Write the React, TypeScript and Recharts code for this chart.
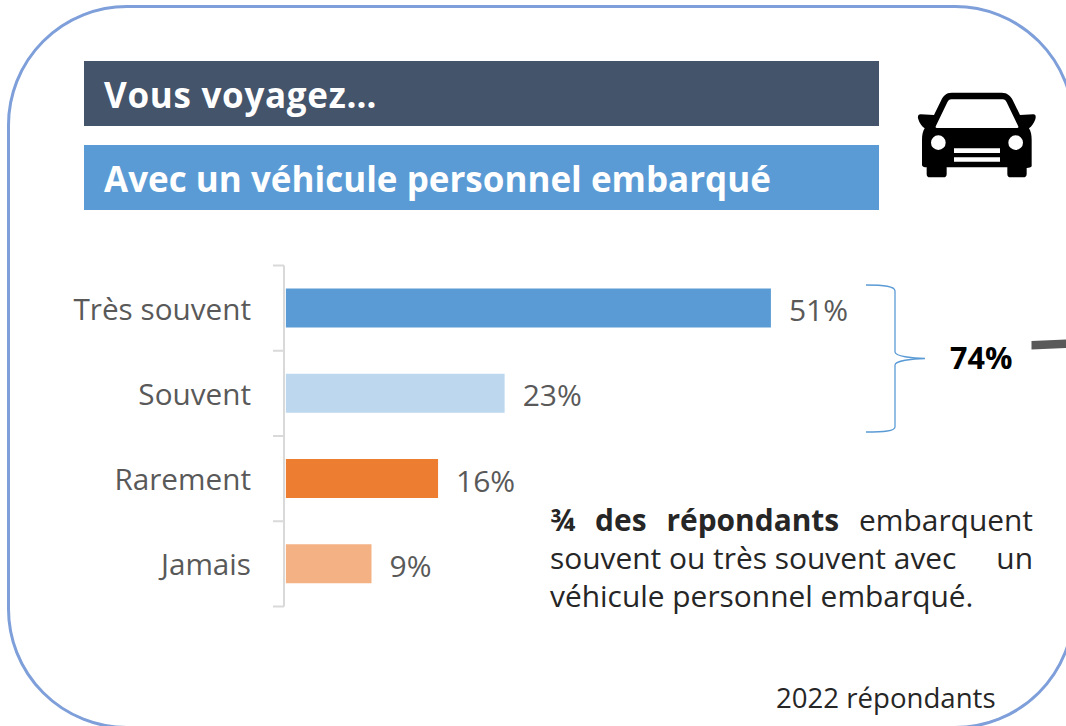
import { Bar, BarChart, Cell, LabelList, XAxis, YAxis } from "recharts";

const categories = ["Très souvent", "Souvent", "Rarement", "Jamais"];
const values = [51, 23, 16, 9];
const colors = ["#5b9bd5", "#bdd7ee", "#ed7d31", "#f4b183"];

const rows = categories.map((name, i) => ({ name, value: values[i] }));

const font = "'Open Sans', sans-serif";
const bandHeight = 85.25;

function CategoryTick({ x, y, payload, index }: any) {
  const top = y - bandHeight / 2;
  return (
    <g>
      <line x1={x - 5} x2={x + 6} y1={top} y2={top} stroke="#d9d9d9" strokeWidth={2} />
      {index === categories.length - 1 && (
        <line x1={x - 5} x2={x + 6} y1={y + bandHeight / 2} y2={y + bandHeight / 2} stroke="#d9d9d9" strokeWidth={2} />
      )}
      <text x={x - 27} y={y} textAnchor="end" dominantBaseline="central" fontFamily={font} fontSize={29.7} fill="#595959">
        {payload.value}
      </text>
    </g>
  );
}

function Banner({ top, color, spacing, children }: any) {
  return (
    <div
      style={{
        position: "absolute",
        left: 84,
        top,
        width: 795,
        height: 65,
        lineHeight: "68px",
        background: color,
        color: "#fff",
        fontFamily: font,
        fontWeight: 700,
        fontSize: 35,
        letterSpacing: spacing,
        paddingLeft: 20,
        boxSizing: "border-box",
      }}
    >
      {children}
    </div>
  );
}

const lineStyle: any = {
  position: "absolute",
  left: 550,
  width: 483,
  fontFamily: font,
  fontSize: 29.9,
  lineHeight: "38px",
  color: "#262626",
  whiteSpace: "nowrap",
};

export default function App() {
  return (
    <div style={{ position: "absolute", left: 0, top: 0, width: 1066, height: 726, overflow: "hidden", background: "#fff" }}>
      <div
        style={{
          position: "absolute",
          left: 7,
          top: 4.5,
          width: 1067.5,
          height: 724,
          border: "3px solid #7e9fd9",
          borderRadius: 120,
          boxSizing: "border-box",
        }}
      />
      <Banner top={61} color="#44546a" spacing={0.7}>Vous voyagez…</Banner>
      <Banner top={145} color="#5b9bd5" spacing={0}>Avec un véhicule personnel embarqué</Banner>

      <div style={{ position: "absolute", left: 0, top: 0 }}>
        <BarChart
          width={1066}
          height={726}
          data={rows}
          layout="vertical"
          barCategoryGap="27%"
          margin={{ top: 265.5, bottom: 119.5, left: 0, right: 209.5 }}
        >
          <XAxis type="number" hide domain={[-0.2, 60]} />
          <YAxis
            type="category"
            dataKey="name"
            width={284}
            axisLine={{ stroke: "#d9d9d9", strokeWidth: 2 }}
            tickLine={false}
            tickMargin={0}
            tick={<CategoryTick />}
            interval={0}
          />
          <Bar dataKey="value" isAnimationActive={false}>
            {rows.map((_, i) => (
              <Cell key={i} fill={colors[i]} />
            ))}
            <LabelList
              dataKey="value"
              position="right"
              offset={18}
              dy={2.5}
              formatter={(v: any) => `${v}%`}
              fontFamily={font}
              fontSize={30}
              fill="#595959"
            />
          </Bar>
        </BarChart>
      </div>

      <svg style={{ position: "absolute", left: 0, top: 0 }} width={1066} height={726}>
        <path
          d="M866 285 C884 285 895 286 895 291 L895 352 C895 356 912 358.5 925 358.5 C912 358.5 895 361 895 365 L895 427 C895 431 884 432 866 432"
          fill="none"
          stroke="#5b9bd5"
          strokeWidth={1.3}
        />
        <path d="M1031.5 341 L1066 339.5 L1066 348 L1031.5 349.5 Z" fill="#595959" />
      </svg>
      <div style={{ position: "absolute", left: 950, top: 338, fontFamily: font, fontWeight: 700, fontSize: 30.5, lineHeight: "38px", color: "#000" }}>
        74%
      </div>

      <svg style={{ position: "absolute", left: 880, top: 60 }} width={186} height={140} viewBox="0 0 558 420">
        <path
          fillRule="evenodd"
          fill="#000"
          d="M215 98 L365 98 C382 98 392 108 398 120 L420 165 L460 163 C468 163 468 170 466 178 C462 190 455 200 447 205 C453 215 455 225 455 240 L455 318 C455 322 444 324 440 324 L440 342 C440 349 436 352 430 352 L392 352 C385 352 382 349 382 342 L382 322 L200 322 L200 342 C200 349 197 352 190 352 L150 352 C143 352 140 349 140 342 L140 322 C132 322 126 320 126 315 L126 240 C126 225 128 215 134 205 C126 200 118 190 115 178 C112 170 114 163 122 163 L162 165 L184 120 C190 108 198 98 215 98 Z
             M214 118 C208 118 205 121 202 127 L168 197 C165 203 168 204 172 204 L410 204 C414 204 417 203 414 197 L380 127 C377 121 374 118 368 118 Z
             M197 248 A22 22 0 1 0 153 248 A22 22 0 1 0 197 248 Z
             M429 248 A22 22 0 1 0 385 248 A22 22 0 1 0 429 248 Z
             M222 265 L360 265 L360 279 L222 279 Z
             M222 292 L360 292 L360 305 L222 305 Z"
        />
      </svg>

      <div style={{ ...lineStyle, top: 501, textAlign: "justify", textAlignLast: "justify" }}>
        <b>¾ des répondants</b> embarquent
      </div>
      <div style={{ ...lineStyle, top: 539, display: "flex", justifyContent: "space-between" }}>
        <span>souvent ou très souvent avec</span>
        <span>un</span>
      </div>
      <div style={{ ...lineStyle, top: 577 }}>véhicule personnel embarqué.</div>
      <div style={{ position: "absolute", left: 776, top: 678, fontFamily: font, fontSize: 27.6, lineHeight: "38px", color: "#262626", whiteSpace: "nowrap" }}>
        2022 répondants
      </div>
    </div>
  );
}
